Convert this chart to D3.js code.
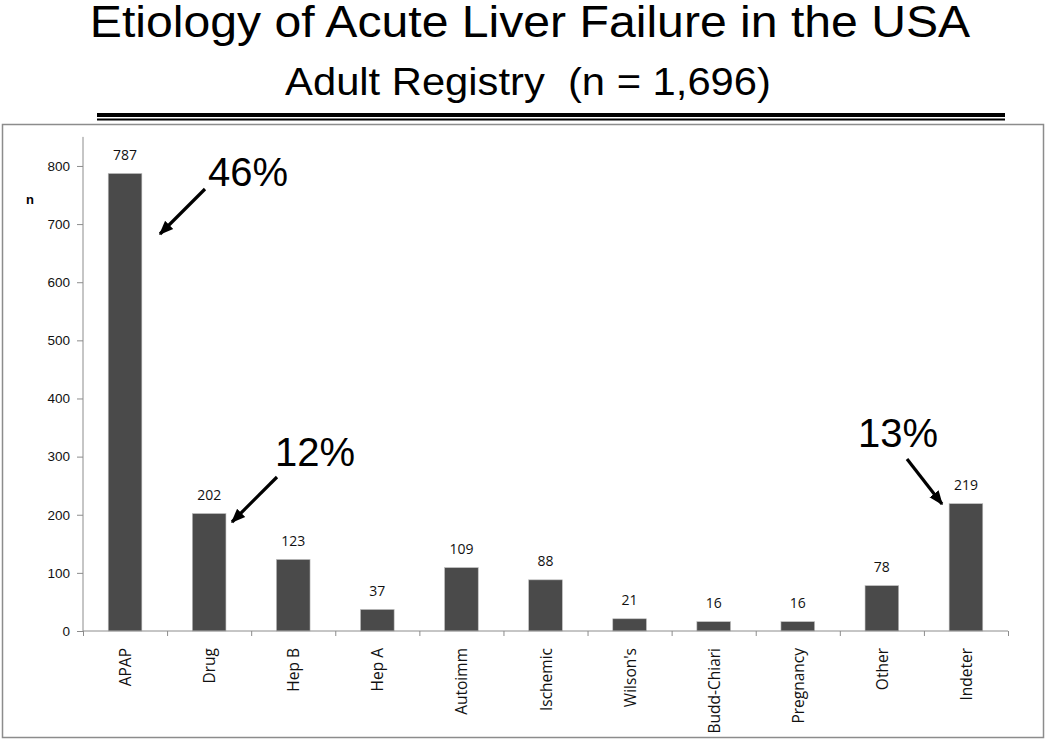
<!DOCTYPE html>
<html>
<head>
<meta charset="utf-8">
<script src="https://cdn.jsdelivr.net/npm/d3@7"></script>
<style>
  body { margin: 0; background: #fff; }
  svg { display: block; }
</style>
</head>
<body>
<div id="chart"></div>
<script>
const categories = ["APAP", "Drug", "Hep B", "Hep A", "Autoimm", "Ischemic", "Wilson's", "Budd-Chiari", "Pregnancy", "Other", "Indeter"];
const counts = [787, 202, 123, 37, 109, 88, 21, 16, 16, 78, 219];
const yTicks = [0, 100, 200, 300, 400, 500, 600, 700, 800];
// percent callouts: category, text
const callouts = [
  {cat: "APAP", label: "46%"},
  {cat: "Drug", label: "12%"},
  {cat: "Indeter", label: "13%"}
];

var width = 1050,
height = 741;

var svg = d3.select("#chart")
  .append("svg")
  .attr("width", width)
  .attr("height", height);

svg.append("defs").append("marker")
  .attr("id", "arrow")
  .attr("viewBox", "0 0 10 10")
  .attr("refX", 9).attr("refY", 5)
  .attr("markerWidth", 4.5).attr("markerHeight", 4.5)
  .attr("orient", "auto")
  .append("path")
  .attr("d", "M0,1 L10,5 L0,9 Z")
  .attr("fill", "#000");

// titles (source slide is a bit stretched horizontally)
svg.append("text")
  .attr("transform", "translate(530, 37) scale(1.07, 1)")
  .attr("text-anchor", "middle")
  .attr("font-family", "Liberation Sans, Arial, sans-serif")
  .attr("font-size", 45)
  .text("Etiology of Acute Liver Failure in the USA");

svg.append("text")
  .attr("transform", "translate(528, 95) scale(1.07, 1)")
  .attr("text-anchor", "middle")
  .attr("font-family", "Liberation Sans, Arial, sans-serif")
  .attr("font-size", 39)
  .attr("xml:space", "preserve")
  .text("Adult Registry  (n = 1,696)");

svg.append("rect").attr("x", 97).attr("y", 113).attr("width", 908).attr("height", 4).attr("fill", "#000");
svg.append("rect").attr("x", 97).attr("y", 118.5).attr("width", 908).attr("height", 2).attr("fill", "#000");

// frame
svg.append("rect")
  .attr("x", 2.5).attr("y", 124.5)
  .attr("width", 1041).attr("height", 613)
  .attr("fill", "none")
  .attr("stroke", "#8c8c8c")
  .attr("stroke-width", 1.5);

var x0 = 83, x1 = 1008, yBase = 631;

var xScale = d3.scaleBand()
  .domain(categories)
  .range([x0, x1])
  .paddingInner(0.6)
  .paddingOuter(0.3);

var yScale = d3.scaleLinear()
  .domain([0, 850])
  .range([yBase, yBase - 850 * 0.5813]);

// bars
svg.append("g")
  .selectAll("rect").data(counts)
  .enter().append("rect")
  .attr("x", function(d, i) { return xScale(categories[i]); })
  .attr("y", function(d) { return yScale(d); })
  .attr("width", xScale.bandwidth())
  .attr("height", function(d) { return yBase - yScale(d); })
  .style("fill", "#4a4a4a")
  .style("stroke", "#bdbdbd")
  .style("stroke-width", 0.6);

// value labels
svg.append("g")
  .selectAll("text").data(counts)
  .enter().append("text")
  .attr("x", function(d, i) { return xScale(categories[i]) + xScale.bandwidth() / 2; })
  .attr("y", function(d) { return yScale(d) - 13.5; })
  .attr("text-anchor", "middle")
  .attr("font-family", "Open Sans, sans-serif")
  .attr("font-size", 14)
  .attr("fill", "#111")
  .text(function(d) { return d; });

// y axis
var yAxis = d3.axisLeft(yScale).tickValues(yTicks).tickSize(6).tickPadding(7);
var yg = svg.append("g").attr("transform", `translate(${x0}, 0)`).call(yAxis);
yg.select(".domain").attr("stroke", "#8c8c8c").attr("d", `M0,${yScale(850)}V${yBase}`);
yg.selectAll(".tick line").attr("stroke", "#8c8c8c");
yg.selectAll(".tick text")
  .attr("font-family", "Liberation Sans, Arial, sans-serif")
  .attr("font-size", 13.5)
  .attr("fill", "#111");

// x axis with tick marks between categories
var xAxisScale = d3.scaleLinear().domain([0, categories.length]).range([x0, x1]);
var xg = svg.append("g").attr("transform", `translate(0, ${yBase})`);
xg.call(d3.axisBottom(xAxisScale).ticks(categories.length).tickSize(5).tickFormat(""));
xg.select(".domain").attr("stroke", "#8c8c8c").attr("d", `M${x0},0H${x1}`);
xg.selectAll(".tick line").attr("stroke", "#8c8c8c");

svg.append("g")
  .selectAll("text").data(categories)
  .enter().append("text")
  .attr("transform", function(d) {
    return `translate(${xScale(d) + xScale.bandwidth() / 2 + 6}, ${yBase + 17}) rotate(-90)`;
  })
  .attr("text-anchor", "end")
  .attr("font-family", "Open Sans, sans-serif")
  .attr("font-size", 15.5)
  .attr("fill", "#111")
  .text(function(d) { return d; });

// "n" axis title
svg.append("text")
  .attr("x", 30).attr("y", 204)
  .attr("text-anchor", "middle")
  .attr("font-family", "Liberation Sans, Arial, sans-serif")
  .attr("font-weight", "bold")
  .attr("font-size", 13)
  .text("n");

// callouts: text + arrow, placed relative to bar
var calloutPos = {
  "APAP":    {tx: 248, ty: 186, ax1: 205, ay1: 189, ax2: 160, ay2: 234},
  "Drug":    {tx: 315, ty: 466, ax1: 277, ay1: 477, ax2: 232, ay2: 522},
  "Indeter": {tx: 898, ty: 447, ax1: 907, ay1: 459, ax2: 942, ay2: 504}
};
callouts.forEach(function(c) {
  var p = calloutPos[c.cat];
  svg.append("text")
    .attr("x", p.tx).attr("y", p.ty)
    .attr("text-anchor", "middle")
    .attr("font-family", "Liberation Sans, Arial, sans-serif")
    .attr("font-size", 40)
    .text(c.label);
  svg.append("line")
    .attr("x1", p.ax1).attr("y1", p.ay1)
    .attr("x2", p.ax2).attr("y2", p.ay2)
    .attr("stroke", "#000")
    .attr("stroke-width", 3.2)
    .attr("marker-end", "url(#arrow)");
});
</script>
</body>
</html>
